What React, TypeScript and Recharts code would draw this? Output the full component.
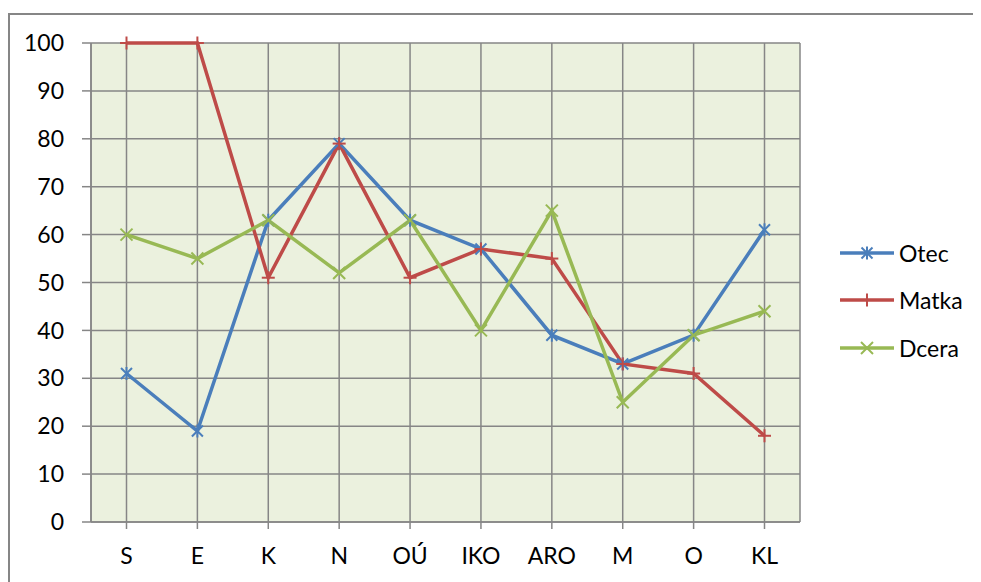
import React from 'react';
import { LineChart, Line, XAxis, YAxis, CartesianGrid } from 'recharts';

const categories = ['S', 'E', 'K', 'N', 'OÚ', 'IKO', 'ARO', 'M', 'O', 'KL'];
const otec = [31, 19, 63, 79, 63, 57, 39, 33, 39, 61];
const matka = [100, 100, 51, 79, 51, 57, 55, 33, 31, 18];
const dcera = [60, 55, 63, 52, 63, 40, 65, 25, 39, 44];
const yTicks = [0, 10, 20, 30, 40, 50, 60, 70, 80, 90, 100];

const seriesNames = ['Otec', 'Matka', 'Dcera'];
const colors = ['#4A7EBB', '#BE4B48', '#98B954'];

const data = categories.map((c, i) => ({ cat: c, Otec: otec[i], Matka: matka[i], Dcera: dcera[i] }));

const FONT = 'Lato, "Open Sans", sans-serif';
const GRID = '#868686';
const FS = 23;

function StarMark({ cx, cy, color }: { cx: number; cy: number; color: string }) {
  const r = 5.5;
  return (
    <g stroke={color} strokeWidth={2}>
      <line x1={cx - r} y1={cy - r} x2={cx + r} y2={cy + r} />
      <line x1={cx - r} y1={cy + r} x2={cx + r} y2={cy - r} />
      <line x1={cx} y1={cy - r - 1} x2={cx} y2={cy + r + 1} />
    </g>
  );
}
function PlusMark({ cx, cy, color }: { cx: number; cy: number; color: string }) {
  const r = 6.5;
  return (
    <g stroke={color} strokeWidth={2}>
      <line x1={cx - r} y1={cy} x2={cx + r} y2={cy} />
      <line x1={cx} y1={cy - r} x2={cx} y2={cy + r} />
    </g>
  );
}
function XMark({ cx, cy, color }: { cx: number; cy: number; color: string }) {
  const r = 6;
  return (
    <g stroke={color} strokeWidth={2}>
      <line x1={cx - r} y1={cy - r} x2={cx + r} y2={cy + r} />
      <line x1={cx - r} y1={cy + r} x2={cx + r} y2={cy - r} />
    </g>
  );
}
const marks = [StarMark, PlusMark, XMark];

function makeDot(i: number) {
  const M = marks[i];
  return (props: any) => {
    const { cx, cy, index } = props;
    if (cx == null || cy == null) return <g key={`d${i}-${index}`} />;
    return <M key={`d${i}-${index}`} cx={cx} cy={cy} color={colors[i]} />;
  };
}

export default function App() {
  return (
    <div style={{ position: 'relative', width: 973, height: 574, fontFamily: FONT }}>
      <div
        style={{
          position: 'absolute',
          left: 0,
          top: 5,
          width: 973,
          height: 569,
          borderTop: `2px solid ${GRID}`,
          borderLeft: `2px solid ${GRID}`,
          boxSizing: 'border-box',
        }}
      />
      <div style={{ position: 'absolute', left: 0, top: 0 }}>
        <LineChart width={973} height={574} data={data} margin={{ top: 35, right: 181, bottom: 20, left: 0 }}>
          <CartesianGrid stroke={GRID} strokeWidth={1.5} fill="#EBF1DE" fillOpacity={1} />
          <XAxis
            dataKey="cat"
            height={40}
            padding={{ left: 35.5, right: 35.5 }}
            tickSize={7}
            tickMargin={19}
            tick={{ fill: '#000', fontSize: FS, fontFamily: FONT }}
            stroke={GRID}
            strokeWidth={1.5}
            interval={0}
          />
          <YAxis
            type="number"
            domain={[0, 100]}
            ticks={yTicks}
            width={83}
            tickSize={9}
            tickMargin={18}
            tick={{ fill: '#000', fontSize: FS, fontFamily: FONT }}
            stroke={GRID}
            strokeWidth={1.5}
            interval={0}
          />
          {seriesNames.map((s, i) => (
            <Line
              key={s}
              dataKey={s}
              stroke={colors[i]}
              strokeWidth={3.5}
              dot={makeDot(i)}
              activeDot={false}
              isAnimationActive={false}
            />
          ))}
        </LineChart>
      </div>
      <div style={{ position: 'absolute', left: 832, top: 221 }}>
        {seriesNames.map((s, i) => {
          const M = marks[i];
          return (
            <div key={s} style={{ display: 'flex', alignItems: 'center', height: 47.5 }}>
              <svg width={54} height={20} style={{ marginRight: 5 }}>
                <line x1={0} y1={10} x2={54} y2={10} stroke={colors[i]} strokeWidth={3.5} />
                <M cx={27} cy={10} color={colors[i]} />
              </svg>
              <span style={{ fontSize: FS, color: '#000', lineHeight: '20px' }}>{s}</span>
            </div>
          );
        })}
      </div>
    </div>
  );
}
